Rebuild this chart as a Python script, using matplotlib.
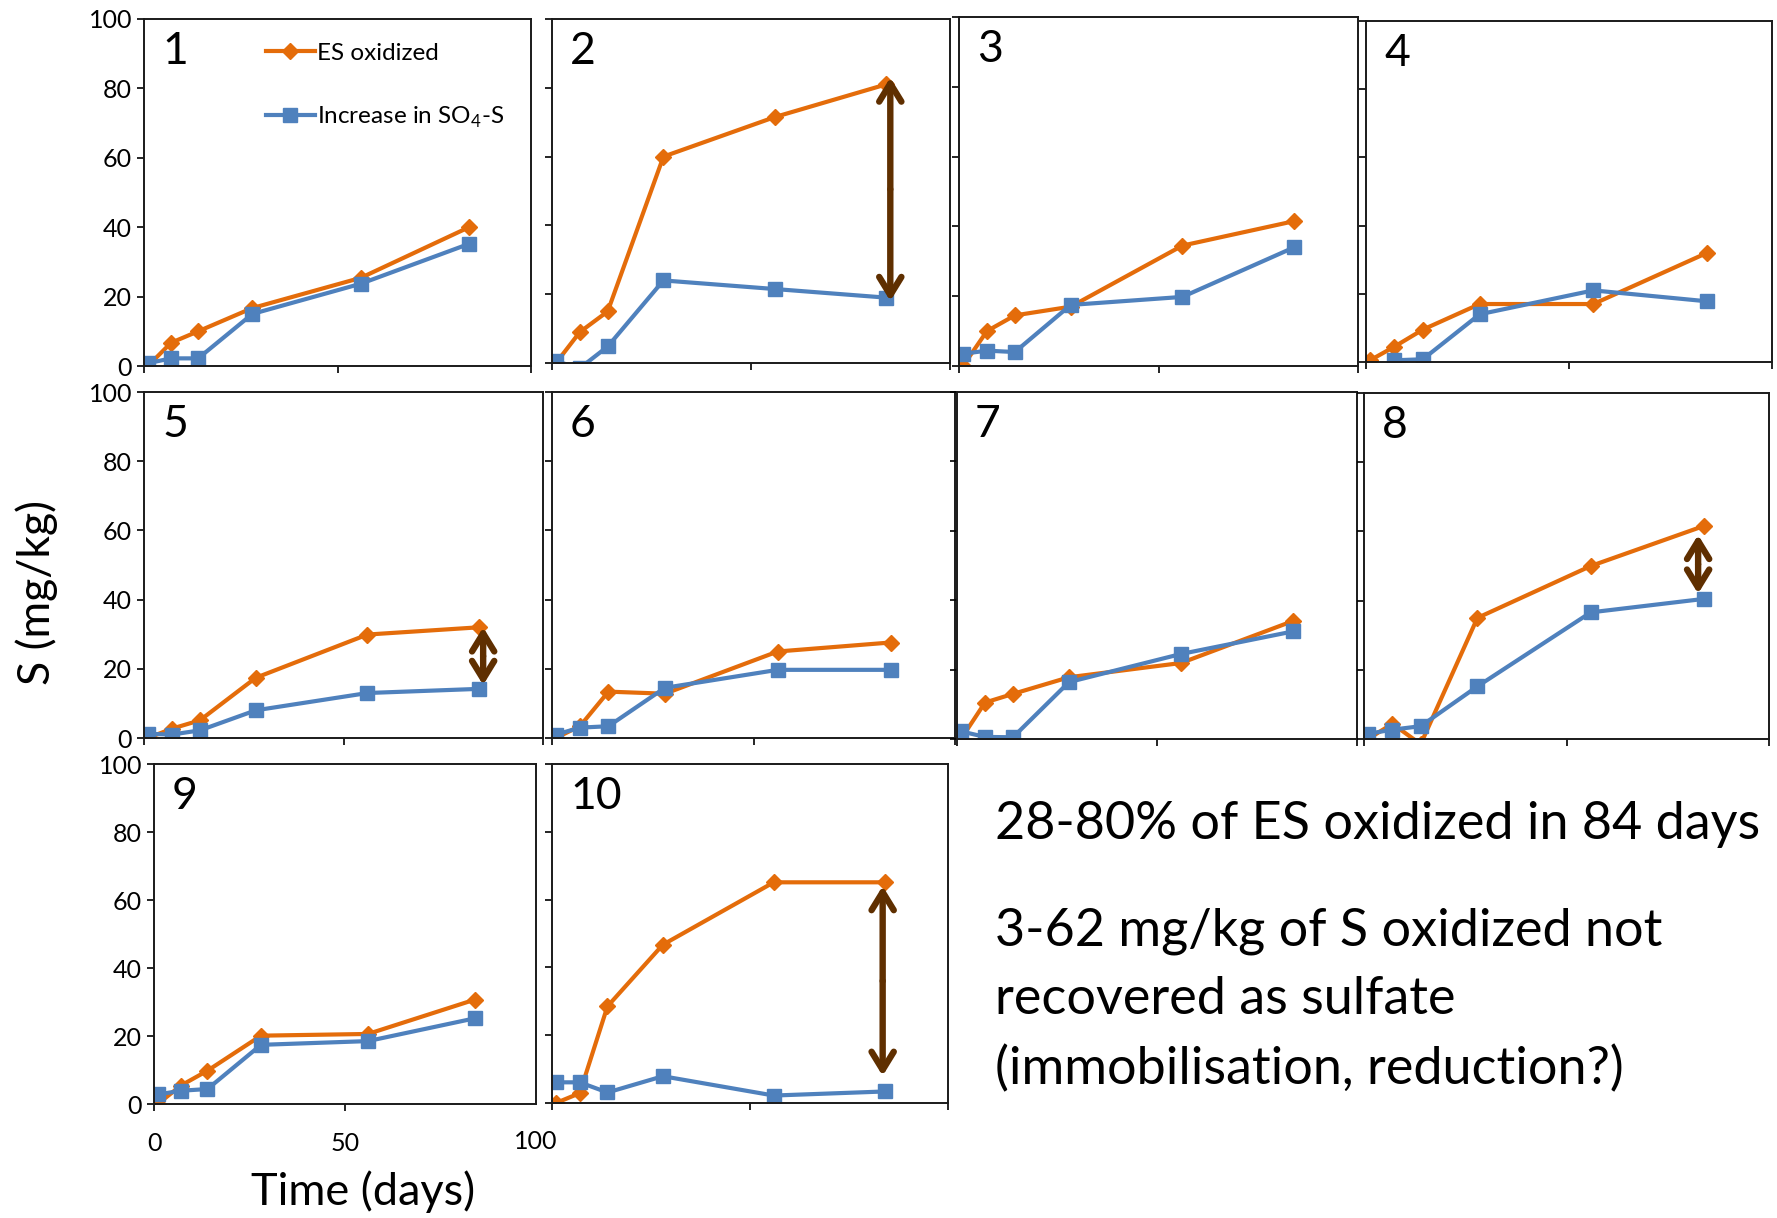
import numpy as np
import matplotlib
matplotlib.use('Agg')
import matplotlib.pyplot as plt

plt.rcParams['font.family'] = ['Lato', 'DejaVu Sans']
plt.rcParams['mathtext.fontset'] = 'custom'
plt.rcParams['mathtext.rm'] = 'Lato'

# Sampling days and S values (mg/kg) for the ten soils
days = [1, 7, 14, 28, 56, 84]

es_oxidized = {
    1: [0, 6.7, 10, 16.7, 25.4, 40],
    2: [0, 9, 15, 60, 71.5, 81],
    3: [0, 10, 14.5, 17, 34.5, 41.5],
    4: [0.5, 4.5, 9.5, 17, 17, 32],
    5: [0, 2.7, 5.1, 17.4, 29.9, 32],
    6: [0, 3.5, 13.4, 12.8, 25, 27.6],
    7: [0, 10.5, 13, 17.8, 21.9, 34],
    8: [0, 4.4, -1.5, 35, 50, 61.6],
    9: [0, 5.4, 9.8, 20.1, 20.6, 30.7],
    10: [0, 2.9, 28.5, 46.7, 65.1, 65.1],
}
so4_increase = {
    1: [0.8, 2.2, 2.2, 15, 23.7, 35.2],
    2: [0.5, -1.5, 4.8, 24, 21.5, 19],
    3: [3.5, 4.4, 4.0, 17.5, 19.8, 34],
    4: [np.nan, 0.5, 0.8, 14, 21, 17.8],
    5: [1.2, 1.0, 2.2, 8, 13, 14.2],
    6: [1, 3, 3.4, 14.5, 19.7, 19.7],
    7: [2.2, 0.6, 0.5, 16.4, 24.5, 31],
    8: [1.5, 2.7, 3.7, 15.2, 36.6, 40.5],
    9: [2.8, 3.9, 4.4, 17.4, 18.5, 25.2],
    10: [6.1, 6.1, 3.1, 7.9, 2.2, 3.4],
}

# gap between S oxidized and sulfate recovered
arrow_soil = [2, 5, 8, 10]
arrow_day = [85, 85, 82.5, 83.5]
arrow_top = [83, 32, 59, 64]
arrow_bottom = [18, 15.3, 42, 8]

# panel frames in pixels: left, right, top, bottom, last day shown
W, H = 1777, 1218
frames = {
    1: (144, 531, 19, 366, 95.8),
    2: (552, 950, 19, 363, 98.8),
    3: (959, 1358, 17, 366, 99),
    4: (1366, 1772, 21, 362, 100),
    5: (144, 543, 392, 738, 98),
    6: (552, 955, 392, 738, 100),
    7: (957, 1357, 392, 739, 98.3),
    8: (1364, 1769, 393, 739, 100),
    9: (154, 536, 764, 1104, 96.2),
    10: (552, 948, 764, 1103, 100),
}

orange = '#E46C0A'
blue = '#4F81BD'
brown = '#5F2F00'

fig = plt.figure(figsize=(W / 100, H / 100), dpi=100)

axes = {}
for n, (x0, x1, yt, yb, xmax) in frames.items():
    ax = fig.add_axes([x0 / W, 1 - yb / H, (x1 - x0) / W, (yb - yt) / H])
    ax.plot(days, es_oxidized[n], color=orange, lw=3, marker='D', ms=8,
            label='ES oxidized')
    ax.plot(days, so4_increase[n], color=blue, lw=3, marker='s', ms=10,
            label='Increase in SO$_4$-S')
    ax.set_xlim(0, xmax)
    ax.set_ylim(0, 100)
    ax.set_yticks(range(0, 101, 20))
    ax.set_xticks([0, 50, 100])
    ax.tick_params(direction='out', length=5, width=1.2, labelsize=18)
    ax.tick_params(axis='x', pad=15)
    if n not in (1, 5, 9):
        ax.set_yticklabels([])
    if n != 9:
        ax.set_xticklabels([])
    for sp in ax.spines.values():
        sp.set_linewidth(1.4)
        sp.set_color('#1a1a1a')
    ax.annotate(str(n), xy=(0, 1), xycoords='axes fraction', xytext=(18, -12),
                textcoords='offset pixels', fontsize=32, va='top', ha='left')
    axes[n] = ax

# x tick label at 100 sits beyond the cropped frame of panel 9
axes[9].set_xticks([0, 50])
axes[9].set_xticklabels(['0', '50'])
axes[9].annotate('100', xy=(100, 0), xycoords=('data', 'axes fraction'),
                 xytext=(0, -18.5), textcoords='offset points', ha='center',
                 va='top', fontsize=18, annotation_clip=False)

# double arrows: two open heads pointing away from the middle
for n, d, top, bot in zip(arrow_soil, arrow_day, arrow_top, arrow_bottom):
    mid = (top + bot) / 2
    for end in (top, bot):
        axes[n].annotate('', xy=(d, end), xytext=(d, mid),
                         arrowprops=dict(arrowstyle='->, head_length=0.65, head_width=0.4',
                                         color=brown, lw=4.6, shrinkA=0, shrinkB=0,
                                         mutation_scale=20, capstyle='round',
                                         joinstyle='round'))

axes[1].legend(loc='upper left', bbox_to_anchor=(0.29, 0.96), frameon=False,
               fontsize=17.5, handlelength=2.0, handletextpad=0.1, labelspacing=1.7,
               borderaxespad=0)

fig.text(37 / W, 1 - 592 / H, 'S (mg/kg)', rotation=90, fontsize=32,
         ha='center', va='center')
fig.text(363 / W, 1 - 1192 / H, 'Time (days)', fontsize=32.5,
         ha='center', va='center')

notes = ['28-80% of ES oxidized in 84 days',
         '3-62 mg/kg of S oxidized not',
         'recovered as sulfate',
         '(immobilisation, reduction?)']
note_y = [824, 931, 999, 1069]
for txt, y in zip(notes, note_y):
    fig.text(995 / W, 1 - y / H, txt, fontsize=37.5, ha='left', va='center')

fig.savefig('out.png', dpi=100, facecolor='white')
